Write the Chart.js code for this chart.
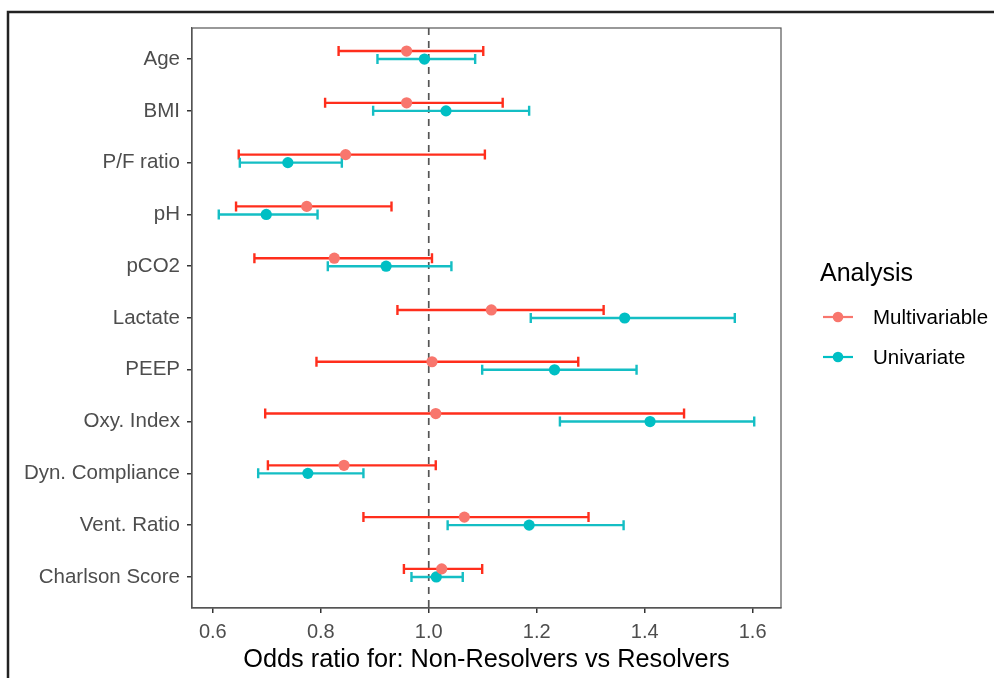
<!DOCTYPE html>
<html>
<head>
<meta charset="utf-8">
<script src="https://cdn.jsdelivr.net/npm/chart.js@4.4.1/dist/chart.umd.min.js"></script>
<style>
  html, body { margin: 0; padding: 0; background: #ffffff; }
  #wrap { width: 994px; height: 678px; position: relative; }
</style>
</head>
<body>
<div id="wrap"><canvas id="c" width="994" height="678"></canvas></div>
<script>
// ---- data ----
const categories = ['Age', 'BMI', 'P/F ratio', 'pH', 'pCO2', 'Lactate', 'PEEP', 'Oxy. Index', 'Dyn. Compliance', 'Vent. Ratio', 'Charlson Score'];
const multiOR = [0.959, 0.959, 0.846, 0.774, 0.825, 1.116, 1.006, 1.013, 0.843, 1.066, 1.024];
const multiLo = [0.833, 0.808, 0.648, 0.643, 0.677, 0.942, 0.792, 0.697, 0.702, 0.879, 0.954];
const multiHi = [1.101, 1.137, 1.104, 0.931, 1.006, 1.324, 1.277, 1.473, 1.013, 1.296, 1.099];
const uniOR = [0.992, 1.032, 0.739, 0.699, 0.921, 1.363, 1.233, 1.410, 0.776, 1.186, 1.014];
const uniLo = [0.905, 0.897, 0.650, 0.611, 0.813, 1.189, 1.099, 1.243, 0.684, 1.035, 0.968];
const uniHi = [1.086, 1.186, 0.839, 0.794, 1.042, 1.567, 1.385, 1.603, 0.879, 1.361, 1.063];
const xTicks = [0.6, 0.8, 1.0, 1.2, 1.4, 1.6];
const seriesNames = ['Multivariable', 'Univariate'];
const refLine = 1.0;

const FONT = "'Liberation Sans', Arial, Helvetica, sans-serif";
const multiOffset = -0.155;   // multivariable drawn slightly above its category

const allLo = Math.min(...multiLo, ...uniLo);
const allHi = Math.max(...multiHi, ...uniHi);
const span = allHi - allLo;
const xMin = allLo - 0.05 * span;
const xMax = allHi + 0.05 * span;

const series = [
  { name: seriesNames[0], or: multiOR, lo: multiLo, hi: multiHi, off: multiOffset, point: '#F8766D', bar: '#FF2E1C' },
  { name: seriesNames[1], or: uniOR, lo: uniLo, hi: uniHi, off: 0, point: '#00BFC4', bar: '#14BEC4' }
];

const frame = {
  id: 'frame',
  beforeDraw(chart) {
    const ctx = chart.ctx;
    ctx.save();
    ctx.fillStyle = '#ffffff';
    ctx.fillRect(0, 0, chart.width, chart.height);
    ctx.strokeStyle = '#222222';
    ctx.lineWidth = 2.5;
    ctx.beginPath();
    ctx.moveTo(8, 678);
    ctx.lineTo(8, 12);
    ctx.lineTo(994, 12);
    ctx.stroke();
    ctx.restore();
  }
};

const bars = {
  id: 'bars',
  beforeDatasetsDraw(chart) {
    const { ctx, chartArea: a, scales: { x, y } } = chart;
    ctx.save();
    // panel border
    ctx.strokeStyle = '#555555';
    ctx.lineWidth = 1.2;
    ctx.strokeRect(a.left, a.top, a.right - a.left, a.bottom - a.top);
    // reference dashed line
    const xr = x.getPixelForValue(refLine);
    ctx.strokeStyle = '#555555';
    ctx.lineWidth = 1.7;
    ctx.setLineDash([7, 6]);
    ctx.beginPath();
    ctx.moveTo(xr, a.top);
    ctx.lineTo(xr, a.bottom);
    ctx.stroke();
    ctx.setLineDash([]);
    // error bars
    const cap = 5;
    series.forEach(s => {
      ctx.strokeStyle = s.bar;
      ctx.lineWidth = 2.4;
      categories.forEach((c, i) => {
        const py = y.getPixelForValue(i + s.off);
        const x0 = x.getPixelForValue(s.lo[i]);
        const x1 = x.getPixelForValue(s.hi[i]);
        ctx.beginPath();
        ctx.moveTo(x0, py); ctx.lineTo(x1, py);
        ctx.moveTo(x0, py - cap); ctx.lineTo(x0, py + cap);
        ctx.moveTo(x1, py - cap); ctx.lineTo(x1, py + cap);
        ctx.stroke();
      });
    });
    ctx.restore();
  }
};

const legendPlugin = {
  id: 'legendCustom',
  afterDraw(chart) {
    const ctx = chart.ctx;
    ctx.save();
    ctx.fillStyle = '#000000';
    ctx.textAlign = 'left';
    ctx.textBaseline = 'alphabetic';
    ctx.font = '25px ' + FONT;
    ctx.fillText('Analysis', 820, 281);
    ctx.font = '20.5px ' + FONT;
    ctx.textBaseline = 'middle';
    const ys = [317, 357];
    series.forEach((s, k) => {
      const yy = ys[k];
      ctx.strokeStyle = s.point;
      ctx.lineWidth = 2.2;
      ctx.beginPath();
      ctx.moveTo(823, yy); ctx.lineTo(853, yy);
      ctx.stroke();
      ctx.fillStyle = s.point;
      ctx.beginPath();
      ctx.arc(838, yy, 5.3, 0, Math.PI * 2);
      ctx.fill();
      ctx.fillStyle = '#000000';
      ctx.fillText(s.name, 873, yy + 1);
    });
    ctx.restore();
  }
};

const datasets = series.map(s => ({
  label: s.name,
  data: s.or.map((v, i) => ({ x: v, y: i + s.off })),
  backgroundColor: s.point,
  borderColor: s.point,
  pointRadius: 5.6,
  pointHoverRadius: 5.6,
  borderWidth: 0,
  showLine: false
}));

new Chart(document.getElementById('c'), {
  type: 'scatter',
  data: { datasets },
  plugins: [frame, bars, legendPlugin],
  options: {
    responsive: false,
    animation: false,
    devicePixelRatio: 1,
    layout: { padding: { top: 28, right: 213, left: 0, bottom: 0 } },
    plugins: { legend: { display: false }, tooltip: { enabled: false } },
    scales: {
      x: {
        type: 'linear',
        min: xMin,
        max: xMax,
        afterBuildTicks: sc => { sc.ticks = xTicks.map(v => ({ value: v })); },
        afterFit: sc => { sc.height = 70; },
        border: { display: true, color: '#555555', width: 1.2 },
        grid: { display: true, drawOnChartArea: false, drawTicks: true, tickLength: 5, color: '#333333', lineWidth: 1.5 },
        ticks: {
          padding: 7,
          color: '#4D4D4D',
          font: { family: FONT, size: 20 },
          maxRotation: 0,
          callback: v => Number(v).toFixed(1)
        },
        title: {
          display: true,
          text: 'Odds ratio for: Non-Resolvers vs Resolvers',
          color: '#000000',
          font: { family: FONT, size: 25.3 },
          padding: { top: 2, bottom: 3 }
        }
      },
      y: {
        type: 'linear',
        reverse: true,
        min: -0.6,
        max: categories.length - 1 + 0.6,
        afterBuildTicks: sc => { sc.ticks = categories.map((c, i) => ({ value: i })); },
        afterFit: sc => { sc.width = 192; },
        border: { display: true, color: '#555555', width: 1.2 },
        grid: { display: true, drawOnChartArea: false, drawTicks: true, tickLength: 5, color: '#333333', lineWidth: 1.5 },
        ticks: {
          padding: 7,
          color: '#4D4D4D',
          font: { family: FONT, size: 20.5 },
          callback: v => categories[v]
        }
      }
    }
  }
});
</script>
</body>
</html>
